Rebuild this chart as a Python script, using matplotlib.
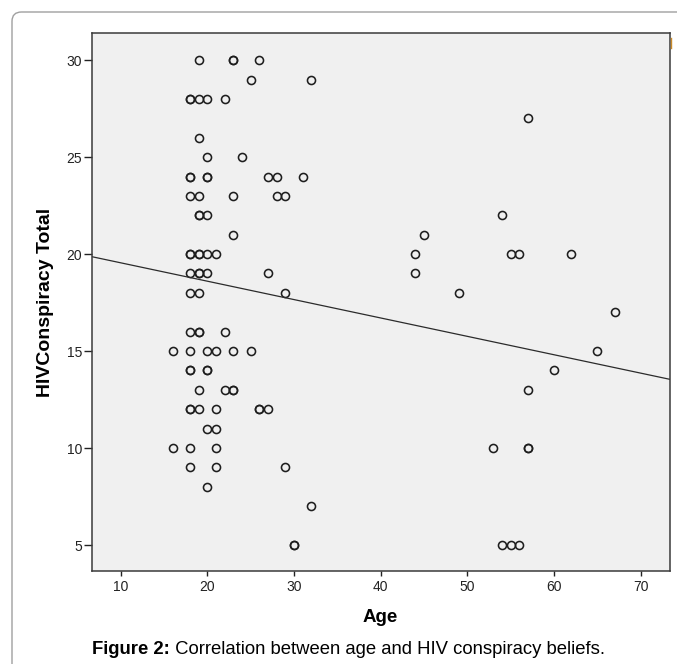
import matplotlib.pyplot as plt
from matplotlib.patches import FancyBboxPatch
from matplotlib.lines import Line2D

plt.rcParams['font.family'] = ['Liberation Sans', 'DejaVu Sans']

# --- Data (repeated pairs = overlapping circles) ---
age = [19, 23, 23, 26,
       25, 32,
       18, 18, 19, 20, 22,
       57,
       19,
       20, 24,
       18, 18, 20, 20, 27, 28, 31,
       18, 19, 23, 28, 29,
       19, 19, 20, 54,
       23, 45,
       18, 18, 19, 19, 20, 21, 44, 55, 56, 62,
       18, 19, 19, 20, 27, 44,
       18, 19, 29, 49,
       67,
       18, 19, 19, 22,
       16, 18, 20, 21, 23, 25, 65,
       18, 18, 20, 20, 60,
       19, 22, 23, 23, 57,
       18, 18, 19, 21, 26, 26, 27,
       20, 21,
       16, 18, 21, 53, 57, 57,
       18, 21, 29,
       20,
       32,
       30, 30, 54, 55, 56]
score = [30, 30, 30, 30,
         29, 29,
         28, 28, 28, 28, 28,
         27,
         26,
         25, 25,
         24, 24, 24, 24, 24, 24, 24,
         23, 23, 23, 23, 23,
         22, 22, 22, 22,
         21, 21,
         20, 20, 20, 20, 20, 20, 20, 20, 20, 20,
         19, 19, 19, 19, 19, 19,
         18, 18, 18, 18,
         17,
         16, 16, 16, 16,
         15, 15, 15, 15, 15, 15, 15,
         14, 14, 14, 14, 14,
         13, 13, 13, 13, 13,
         12, 12, 12, 12, 12, 12, 12,
         11, 11,
         10, 10, 10, 10, 10, 10,
         9, 9, 9,
         8,
         7,
         5, 5, 5, 5, 5]

# fit line
fit_intercept = 20.5
fit_slope = -0.0948

x_ticks = [10, 20, 30, 40, 50, 60, 70]
y_ticks = [5, 10, 15, 20, 25, 30]
x_lim = (6.7, 73.4)
y_lim = (3.66, 31.4)

# --- Figure ---
fig = plt.figure(figsize=(6.77, 6.64), dpi=100)
ax = fig.add_axes([92 / 677, 1 - 571 / 664, 578 / 677, 538 / 664])
ax.set_facecolor('#f0f0f0')

ax.plot(age, score, 'o', markersize=5.8, markerfacecolor='none',
        markeredgecolor='#1e1e1e', markeredgewidth=1.15, linestyle='none')

fx = list(x_lim)
fy = [fit_intercept + fit_slope * v for v in fx]
ax.plot(fx, fy, color='#2b2b2b', linewidth=0.9)

ax.set_xlim(x_lim)
ax.set_ylim(y_lim)
ax.set_xticks(x_ticks)
ax.set_yticks(y_ticks)
ax.tick_params(axis='x', length=3.8, width=1.0, pad=2.6, labelsize=10, colors='#222222')
ax.tick_params(axis='y', length=6, width=1.0, pad=1.2, labelsize=10, colors='#222222')
for s in ax.spines.values():
    s.set_color('#3a3a3a')
    s.set_linewidth(1.1)

ax.set_xlabel('Age', fontsize=13.5, fontweight='bold')
ax.xaxis.set_label_coords(0.498, -0.0948)
ax.xaxis.label.set_verticalalignment('baseline')
ax.set_ylabel('HIVConspiracy Total', fontsize=14, fontweight='bold')
ax.yaxis.set_label_coords(-0.081, 0.5)
ax.yaxis.label.set_verticalalignment('center')

# caption
t1 = fig.text(92 / 677, 1 - 654 / 664, 'Figure 2:', fontsize=13.3,
              fontweight='bold', va='baseline', ha='left')
fig.canvas.draw()
fig.text(0, 0, ' Correlation between age and HIV conspiracy beliefs.',
         fontsize=13.3, va='baseline', ha='left',
         transform=fig.transFigure)
bb = t1.get_window_extent()
fig.texts[-1].set_position((bb.x1 / fig.bbox.width, 1 - 654 / 664))

# frame around the figure
frame = FancyBboxPatch((12 / 677, -0.1), 1.2, 0.1 + 1 - 12 / 664,
                       boxstyle='round,pad=0,rounding_size=0.014',
                       transform=fig.transFigure, facecolor='none',
                       edgecolor='#a0a0a0', linewidth=1.0)
fig.patches.append(frame)
fig.add_artist(Line2D([671.3 / 677, 671.3 / 677], [1 - 38 / 664, 1 - 48 / 664],
                      color='#c98a2a', linewidth=1.0, transform=fig.transFigure))

fig.savefig('out.png', dpi=100)
